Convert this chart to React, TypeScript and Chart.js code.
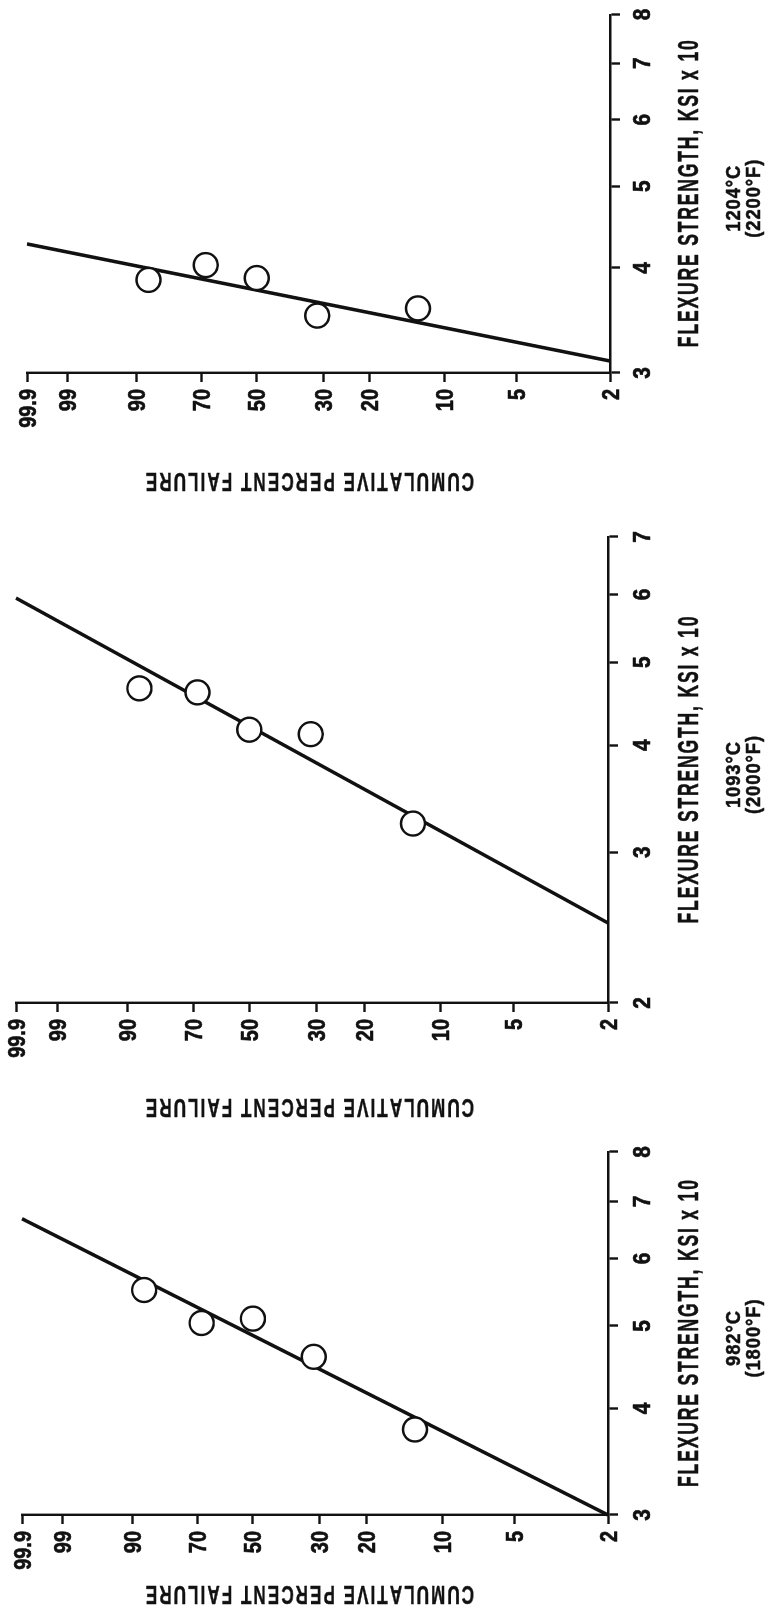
import React, { useEffect, useRef } from 'react';
import { Chart, registerables } from 'chart.js';

Chart.register(...registerables);

// ---------------- data ----------------
const PROB_TICKS = [2, 5, 10, 20, 30, 50, 70, 90, 99, 99.9];
const FAILURE_PCT = [12.9, 31.5, 50, 68.5, 87.1];

const STRENGTH_982 = [3.78, 4.6, 5.1, 5.04, 5.51];
const STRENGTH_1093 = [3.24, 4.12, 4.17, 4.61, 4.66];
const STRENGTH_1204 = [3.58, 3.51, 3.89, 4.03, 3.87];

const FIT_PCT = [99.9, 2];
const FIT_982 = [6.68, 3.0];
const FIT_1093 = [5.94, 2.48];
const FIT_1204 = [4.27, 3.1];

const TICKS_982 = [3, 4, 5, 6, 7, 8];
const TICKS_1093 = [2, 3, 4, 5, 6, 7];
const TICKS_1204 = [3, 4, 5, 6, 7, 8];

const X_TITLE = 'FLEXURE STRENGTH, KSI x 10';
const Y_TITLE = 'CUMULATIVE PERCENT FAILURE';

// ---------------- layout / style ----------------
const INK = '#111111';
const H = 779; // height of the unrotated figure
const FIG_W = 1611; // width of the unrotated figure

// Weibull probability transform
const W = (p: number) => Math.log(-Math.log(1 - p / 100));

type PanelCfg = {
  key: string;
  tempC: string;
  tempF: string;
  strength: number[];
  fit: number[];
  ticks: number[];
  canvasLeft: number;
  canvasWidth: number;
  areaLeft: number;
  areaRight: number;
  areaTop: number;
  areaBottom: number;
  yTitleOffset: number;
};

const PANELS: PanelCfg[] = [
  {
    key: '982', tempC: '982°C', tempF: '(1800°F)',
    strength: STRENGTH_982, fit: FIT_982, ticks: TICKS_982,
    canvasLeft: 0, canvasWidth: 500,
    areaLeft: 96, areaRight: 459, areaTop: 22, areaBottom: 608,
    yTitleOffset: 80,
  },
  {
    key: '1093', tempC: '1093°C', tempF: '(2000°F)',
    strength: STRENGTH_1093, fit: FIT_1093, ticks: TICKS_1093,
    canvasLeft: 480, canvasWidth: 620,
    areaLeft: 608, areaRight: 1074, areaTop: 16, areaBottom: 608,
    yTitleOffset: 105,
  },
  {
    key: '1204', tempC: '1204°C', tempF: '(2200°F)',
    strength: STRENGTH_1204, fit: FIT_1204, ticks: TICKS_1204,
    canvasLeft: 1110, canvasWidth: 501,
    areaLeft: 1238, areaRight: 1598, areaTop: 27, areaBottom: 610,
    yTitleOffset: 109,
  },
];

type TextOpts = {
  capH: number; sx: number; spacing?: number; align?: 'left' | 'center' | 'right'; rot?: number; bold?: number;
};

function drawText(ctx: CanvasRenderingContext2D, text: string, x: number, y: number, o: TextOpts) {
  const size = o.capH / 0.716;
  ctx.save();
  ctx.font = `bold ${size}px "Liberation Sans", Arial, sans-serif`;
  ctx.fillStyle = INK;
  ctx.strokeStyle = INK;
  ctx.lineJoin = 'round';
  ctx.lineWidth = o.bold || 0;
  ctx.textBaseline = 'alphabetic';
  ctx.textAlign = 'left';
  const chars = Array.from(text);
  const widths = chars.map((c) => ctx.measureText(c).width);
  const sp = o.spacing || 0;
  const total = widths.reduce((a, b) => a + b, 0) + sp * (chars.length - 1);
  ctx.translate(x, y);
  if (o.rot) ctx.rotate(o.rot);
  ctx.scale(o.sx, 1);
  let cx = o.align === 'right' ? -total : o.align === 'left' ? 0 : -total / 2;
  chars.forEach((c, i) => {
    ctx.fillText(c, cx, o.capH / 2);
    if (o.bold) ctx.strokeText(c, cx, o.capH / 2);
    cx += widths[i] + sp;
  });
  ctx.restore();
}

function Panel({ cfg }: { cfg: PanelCfg }) {
  const ref = useRef<HTMLCanvasElement>(null);

  useEffect(() => {
    const canvas = ref.current;
    if (!canvas) return;

    const localAreaLeft = cfg.areaLeft - cfg.canvasLeft;
    const localAreaRight = cfg.areaRight - cfg.canvasLeft;

    const textPlugin = {
      id: 'panelText' + cfg.key,
      afterDraw(chart: any) {
        const ctx: CanvasRenderingContext2D = chart.ctx;
        const xs = chart.scales.x;
        const ys = chart.scales.y;
        const area = chart.chartArea;
        // strength tick labels
        cfg.ticks.forEach((v) => {
          drawText(ctx, String(v), xs.getPixelForValue(v), 641, { capH: 17, sx: 0.88, bold: 0.7 });
        });
        // probability tick labels
        PROB_TICKS.forEach((p) => {
          drawText(ctx, String(p), area.left - 16, ys.getPixelForValue(W(p)), {
            capH: 17, sx: 0.84, align: 'right', bold: 0.7,
          });
        });
        const cxm = (area.left + area.right) / 2;
        // x-axis title
        drawText(ctx, X_TITLE, cxm, 687, { capH: 21, sx: 0.6, spacing: 3, bold: 0.5 });
        // temperature
        drawText(ctx, cfg.tempC, cxm - 5, 732, { capH: 15, sx: 0.88, spacing: 1, bold: 0.5 });
        drawText(ctx, cfg.tempF, cxm - 5, 752, { capH: 15, sx: 0.88, spacing: 1, bold: 0.5 });
        // y-axis title
        drawText(ctx, Y_TITLE, area.left - cfg.yTitleOffset, 310, {
          capH: 18, sx: 0.68, spacing: 3, rot: -Math.PI / 2, bold: 0.5,
        });
      },
    };

    const points = FAILURE_PCT.map((p, i) => ({ x: cfg.strength[i], y: W(p) }));
    const line = FIT_PCT.map((p, i) => ({ x: cfg.fit[i], y: W(p) }));

    const chart = new Chart(canvas, {
      type: 'scatter',
      data: {
        datasets: [
          {
            type: 'scatter',
            data: points,
            pointRadius: 12,
            pointHoverRadius: 12,
            pointBorderWidth: 2.4,
            pointBackgroundColor: '#ffffff',
            pointBorderColor: INK,
            showLine: false,
            order: 0,
            clip: false,
          } as any,
          {
            type: 'line',
            data: line,
            borderColor: INK,
            borderWidth: 3.6,
            pointRadius: 0,
            fill: false,
            tension: 0,
            order: 1,
            clip: false,
          } as any,
        ],
      },
      options: {
        responsive: false,
        animation: false,
        events: [],
        layout: {
          padding: {
            left: 0,
            right: cfg.canvasWidth - localAreaRight,
            top: cfg.areaTop,
            bottom: 0,
          },
        },
        plugins: {
          legend: { display: false },
          tooltip: { enabled: false },
          title: { display: false },
        },
        scales: {
          x: {
            type: 'logarithmic',
            position: 'bottom',
            min: cfg.ticks[0],
            max: cfg.ticks[cfg.ticks.length - 1],
            afterBuildTicks: (s: any) => {
              s.ticks = cfg.ticks.map((v) => ({ value: v }));
            },
            afterFit: (s: any) => {
              s.height = H - cfg.areaBottom;
            },
            ticks: { display: false },
            grid: {
              display: true,
              drawOnChartArea: false,
              drawTicks: true,
              tickLength: 10,
              tickWidth: 2.4,
              tickColor: INK,
            },
            border: { display: true, color: INK, width: 2.4 },
          },
          y: {
            type: 'linear',
            position: 'left',
            min: W(PROB_TICKS[0]),
            max: W(PROB_TICKS[PROB_TICKS.length - 1]),
            afterBuildTicks: (s: any) => {
              s.ticks = PROB_TICKS.map((p) => ({ value: W(p) }));
            },
            afterFit: (s: any) => {
              s.width = localAreaLeft;
            },
            ticks: { display: false },
            grid: {
              display: true,
              drawOnChartArea: false,
              drawTicks: true,
              tickLength: 9,
              tickWidth: 2.4,
              tickColor: INK,
            },
            border: { display: true, color: INK, width: 2.4 },
          },
        } as any,
      },
      plugins: [textPlugin],
    } as any);

    return () => chart.destroy();
  }, [cfg]);

  return (
    <canvas
      ref={ref}
      width={cfg.canvasWidth}
      height={H}
      style={{ position: 'absolute', left: cfg.canvasLeft, top: 0, width: cfg.canvasWidth, height: H }}
    />
  );
}

export default function App() {
  return (
    <div
      style={{
        position: 'fixed',
        left: 0,
        top: 0,
        width: H,
        height: FIG_W,
        overflow: 'hidden',
        background: '#ffffff',
      }}
    >
      <div
        style={{
          position: 'absolute',
          left: 0,
          top: FIG_W,
          width: FIG_W,
          height: H,
          transformOrigin: '0 0',
          transform: 'rotate(-90deg)',
        }}
      >
        {PANELS.map((p) => (
          <Panel key={p.key} cfg={p} />
        ))}
      </div>
    </div>
  );
}
